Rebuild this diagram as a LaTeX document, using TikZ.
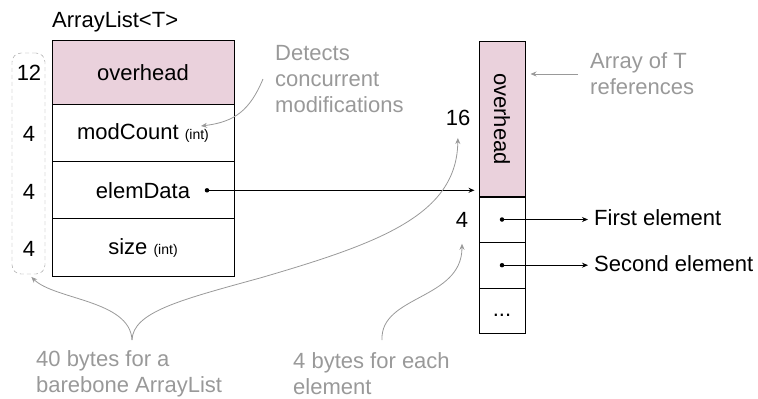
\documentclass[tikz,border=0pt]{standalone}
\usepackage{fontspec}
\setmainfont{Liberation Sans}
\usetikzlibrary{arrows.meta,positioning,calc}
\definecolor{overheadpink}{HTML}{EAD1DC}
\definecolor{notegray}{HTML}{999999}

\begin{document}
\begin{tikzpicture}[x=1pt, y=-1pt,
    every node/.style={font=\fontsize{22}{26}\selectfont, inner sep=0pt},
    cell/.style={draw, line width=1pt, minimum width=182pt, minimum height=57.2pt},
    slot/.style={draw, line width=1pt, minimum width=46pt, minimum height=45.7pt},
    note/.style={text=notegray, align=left},
    notearrow/.style={draw=notegray, line width=0.8pt, -{Stealth[length=6pt,width=5pt]}},
    ptr/.style={line width=0.9pt, -{Stealth[length=6pt,width=5pt]}},
    dot/.style={circle, fill, inner sep=0pt, minimum size=4.5pt}]
  \useasboundingbox (0,0) rectangle (758,399);

  % ArrayList object
  \node[anchor=west] (title) at (52,22) {ArrayList<T>};
  \node[cell, fill=overheadpink, minimum height=63.5pt] (head) at (143,72.7) {overhead};
  \node[cell] (mod) at (143,133.1) {modCount {\fontsize{14}{14}\selectfont(int)}};
  \node[cell] (ed) at (143,190.3) {elemData};
  \node[cell] (sz) at (143,247.5) {size {\fontsize{14}{14}\selectfont(int)}};

  % field sizes
  \foreach \v/\y/\n in {12/73/b1, 4/134/b2, 4/192/b3, 4/249/b4}
    \node (\n) at (29,\y) {\v};
  \node[draw=notegray, dash pattern=on 4pt off 3pt, rounded corners=9pt,
        minimum width=33pt, minimum height=221pt] (sizes) at (28.5,163.5) {};

  % array of references
  \node[draw, line width=1pt, fill=overheadpink, rotate=-90,
        minimum width=156pt, minimum height=46pt] (arrhead) at (502,119) {overhead};
  \foreach \y/\n in {219.5/e1, 265.2/e2}
    \node[slot] (\n) at (502,\y) {};
  \node[slot] (e3) at (502,310.9) {\strut...};
  \node (n16) at (458,118) {16};
  \node (n4) at (462,220) {4};

  % pointers
  \node[dot] (edp) at ($(ed.center)+(64,0)$) {};
  \node[dot] (p1) at (e1.center) {};
  \node[dot] (p2) at (e2.center) {};
  \node[anchor=west] (first) at (594,218) {First element};
  \node[anchor=west] (second) at (594,264) {Second element};
  \draw[ptr, shorten >=4pt] (edp.center) -- (edp.center -| arrhead.south);
  \draw[ptr, shorten >=6pt] (p1.center) -- (p1.center -| first.west);
  \draw[ptr, shorten >=6pt] (p2.center) -- (p2.center -| second.west);

  % notes
  \node[note, anchor=west] (det) at (275,79) {Detects\\concurrent\\modifications};
  \node[note, anchor=west] (arr) at (590,74) {Array of T\\references};
  \node[note, anchor=west] (bytesL) at (36,374) {40 bytes for a\\barebone ArrayList};
  \node[note, anchor=west] (bytesR) at (293,374) {4 bytes for each\\element};
  \coordinate (detfrom) at (263,79);
  \coordinate (modto) at (201,126);
  \coordinate (brace) at (132,340);
  \coordinate (eachfrom) at (382,340);

  \draw[notearrow] (detfrom) .. controls (250,110) and (235,122) .. (modto);
  \draw[notearrow, shorten <=12pt, shorten >=5pt] (arr.west) -- (arr.west -| arrhead.north);
  \draw[notearrow, shorten >=4pt] (brace) .. controls (130,300) and (55,300) .. (sizes.south);
  \draw[notearrow, shorten >=12pt] (brace) .. controls (133,312) and (180,300) .. (260,278)
    .. controls (380,243) and (457,215) .. (n16.south);
  \draw[notearrow, shorten >=16pt] (eachfrom) .. controls (380,295) and (462,300) .. (n4.south);
\end{tikzpicture}
\end{document}
